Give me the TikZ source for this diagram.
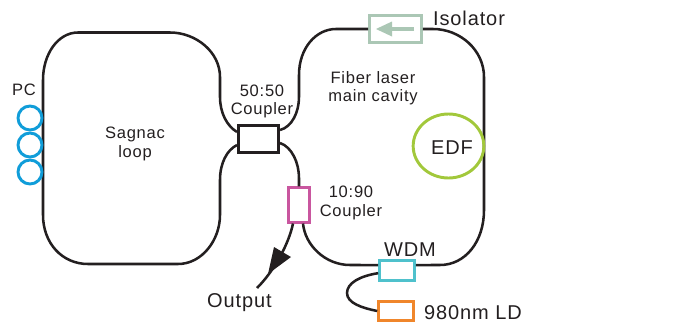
\documentclass[tikz,border=0pt]{standalone}
\usepackage{fontspec}
\setmainfont[LetterSpace=4.5]{Liberation Sans}
\usetikzlibrary{arrows.meta,shapes.geometric}
\definecolor{fib}{HTML}{231F20}
\definecolor{pcblue}{HTML}{109DD9}
\definecolor{edfgreen}{HTML}{A2C83B}
\definecolor{isogreen}{HTML}{ABC7B5}
\definecolor{tapmag}{HTML}{C9569F}
\definecolor{wdmcyan}{HTML}{4FC1CC}
\definecolor{ldorange}{HTML}{F0862B}
\tikzset{
  fibre/.style={draw=fib,line width=1.9pt},
  box/.style={draw=#1,line width=2.2pt,fill=white,inner sep=0pt,anchor=center},
  small/.style={font=\fontsize{12.4}{13.6}\selectfont,text=fib,align=center,inner sep=0pt},
  big/.style={font=\fontsize{15}{17}\selectfont,text=fib,align=center,inner sep=0pt}
}
\begin{document}
\begin{tikzpicture}[x=0.75pt,y=-0.75pt]
\useasboundingbox (0,0) rectangle (682,325);
% anchors of the fibre ends on the boxes
\coordinate (cTL) at (237,132);
\coordinate (cBL) at (237,145);
\coordinate (cTR) at (280,130);
\coordinate (cBR) at (280,143);
% Sagnac loop
\draw[fibre] (cTL) .. controls (227,126) and (220,113) .. (220,97) -- (220,77)
  .. controls (220,52) and (196,32.5) .. (170,32.5) -- (78,32.5)
  .. controls (58,32.5) and (43,54) .. (43,80) -- (43,215)
  .. controls (43,243) and (62,264) .. (88,264) -- (178,264)
  .. controls (202,264) and (220,240) .. (220,215) -- (220,180)
  .. controls (220,163) and (227,150) .. (cBL);
% components
\node[box=fib,line width=2.4pt,minimum width=30.5pt,minimum height=20.5pt] (cpl) at (258.5,139) {};
\node[box=isogreen,minimum width=38.8pt,minimum height=20.2pt] (iso) at (395.5,29) {};
\node[box=tapmag,minimum width=15.2pt,minimum height=25.6pt] (tap) at (299,205) {};
\node[box=wdmcyan,minimum width=26pt,minimum height=15pt] (wdm) at (397,270.5) {};
\node[box=ldorange,minimum width=26pt,minimum height=14.6pt] (ld) at (396,311) {};
% Main cavity
\draw[fibre] (cTR) .. controls (292,127) and (299,112) .. (299,97) -- (299,75)
  .. controls (299,48) and (316,29) .. (336,29) -- (iso.west);
\draw[fibre] (iso.east) -- (433,29)
  .. controls (460,29) and (484,50) .. (484,77) -- (484,210)
  .. controls (484,242) and (465,265) .. (440,265) -- ([yshift=4.1pt]wdm.east);
\draw[fibre] ([yshift=4.1pt]wdm.west) -- (350,265)
  .. controls (325,265) and (305,245) .. ([xshift=3pt]tap.south);
\draw[fibre] (cBR) .. controls (292,147) and (299,163) .. (299,178) -- (tap.north);
% Output
\coordinate (outEnd) at (257,288);
\draw[fibre] ([xshift=-4.5pt]tap.south) .. controls (289,243) and (275,270) .. (outEnd);
\fill[fib] (274,247) -- (291,257) -- (268,274) -- cycle;
% WDM to LD
\draw[fibre] ([yshift=-2pt]wdm.west) .. controls (360,276) and (347,283) .. (347,293)
  .. controls (347,303) and (362,308) .. (ld.west);
% isolator arrow
\draw[draw=isogreen,line width=2.8pt] (414,29) -- (390,29);
\fill[isogreen] (376,29) -- (392,21.5) -- (392,36.5) -- cycle;
% PC and EDF
\foreach \n/\y in {a/118,b/145,c/172}
  \node[draw=pcblue,line width=2.2pt,circle,minimum size=18pt,inner sep=0pt] (pc\n) at (30,\y) {};
\node[draw=edfgreen,line width=2.2pt,ellipse,minimum width=53pt,minimum height=48pt,inner sep=0pt] (edf) at (448.5,146) {};
% labels
\node[small] (tpc) at (24,90) {PC};
\node[small] (tsag) at (135,144) {Sagnac\\loop};
\node[small] (t5050) at (262,101.5) {50:50\\Coupler};
\node[small] (tfib) at (373,88.5) {Fiber laser\\main cavity};
\node[small] (t1090) at (351,203) {10:90\\Coupler};
\node[big] (tiso) at (469,18.5) {Isolator};
\node[big] (tedf) at (452,148) {EDF};
\node[big] (twdm) at (410,249.5) {WDM};
\node[big] (tout) at (239.5,303) {Output};
\node[big] (tld) at (473,312.5) {980nm LD};
\end{tikzpicture}
\end{document}
